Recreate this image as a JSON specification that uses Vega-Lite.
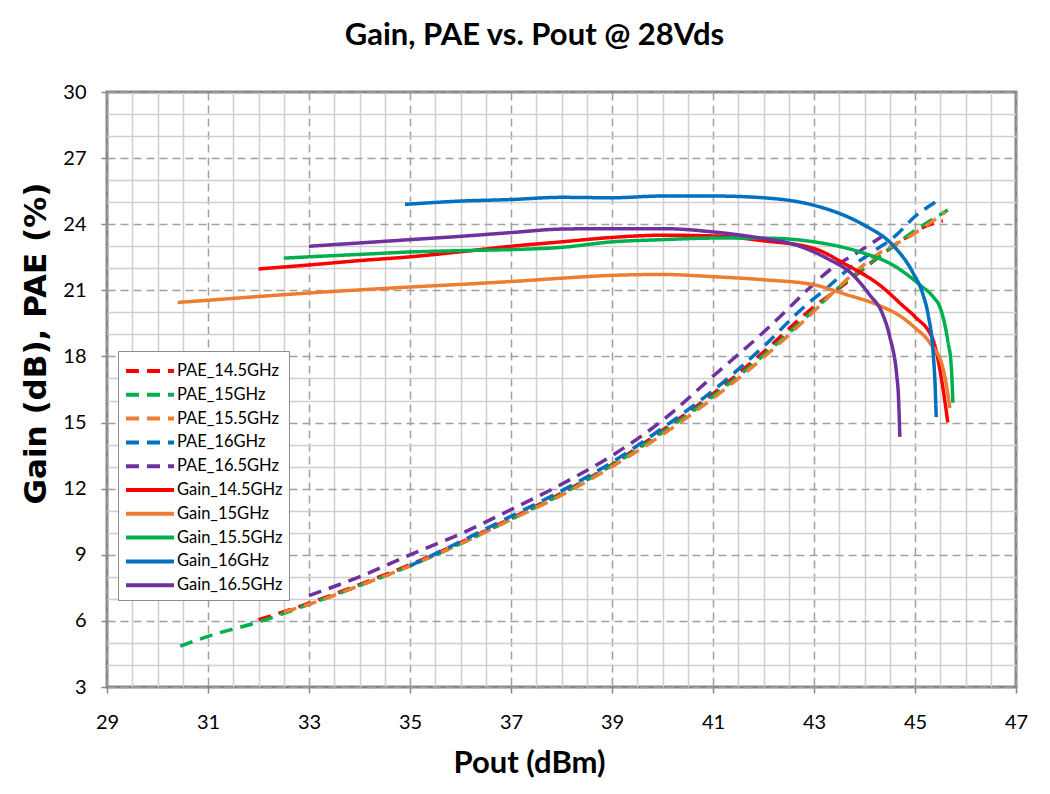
{
  "$schema": "https://vega.github.io/schema/vega-lite/v6.json",
  "autosize": {"type": "none"},
  "padding": {"left": 107, "top": 92, "right": 34, "bottom": 107},
  "width": 909,
  "height": 595,
  "background": "white",
  "title": {"text": "Gain, PAE vs. Pout @ 28Vds", "font": "Lato", "fontSize": 31, "fontWeight": "bold", "color": "#000000", "offset": 30, "dx": -27},
  "config": {
    "view": {"stroke": "#878787", "strokeWidth": 3},
    "axis": {"domain": false, "labelFont": "Lato", "labelFontSize": 20, "labelColor": "#000000", "titleFont": "Lato", "titleFontSize": 31, "titleFontWeight": "bold", "titleColor": "#000000", "tickSize": 6, "tickWidth": 1.5, "gridWidth": 1.5, "labelOverlap": false, "labelFlush": false, "labelBound": false, "format": "d"}
  },
  "data": {"values": [
    {"s":"PAE_14.5GHz","x":32,"y":6.05},{"s":"PAE_14.5GHz","x":33,"y":6.8},{"s":"PAE_14.5GHz","x":34,"y":7.65},{"s":"PAE_14.5GHz","x":35,"y":8.55},{"s":"PAE_14.5GHz","x":36,"y":9.55},{"s":"PAE_14.5GHz","x":37,"y":10.65},{"s":"PAE_14.5GHz","x":38,"y":11.8},{"s":"PAE_14.5GHz","x":39,"y":13.1},{"s":"PAE_14.5GHz","x":40,"y":14.65},{"s":"PAE_14.5GHz","x":41,"y":16.3},{"s":"PAE_14.5GHz","x":42,"y":18.2},{"s":"PAE_14.5GHz","x":43,"y":20.25},{"s":"PAE_14.5GHz","x":43.5,"y":21.1},{"s":"PAE_14.5GHz","x":44,"y":22.0},{"s":"PAE_14.5GHz","x":44.45,"y":22.8},{"s":"PAE_14.5GHz","x":44.9,"y":23.5},{"s":"PAE_14.5GHz","x":45.2,"y":23.9},{"s":"PAE_14.5GHz","x":45.55,"y":24.15},
    {"s":"PAE_15GHz","x":30.45,"y":4.85},{"s":"PAE_15GHz","x":31,"y":5.3},{"s":"PAE_15GHz","x":32,"y":5.95},{"s":"PAE_15GHz","x":33,"y":6.75},{"s":"PAE_15GHz","x":34,"y":7.6},{"s":"PAE_15GHz","x":35,"y":8.5},{"s":"PAE_15GHz","x":36,"y":9.5},{"s":"PAE_15GHz","x":37,"y":10.6},{"s":"PAE_15GHz","x":38,"y":11.75},{"s":"PAE_15GHz","x":39,"y":13.05},{"s":"PAE_15GHz","x":40,"y":14.55},{"s":"PAE_15GHz","x":41,"y":16.2},{"s":"PAE_15GHz","x":42,"y":18.05},{"s":"PAE_15GHz","x":43,"y":20.1},{"s":"PAE_15GHz","x":43.5,"y":21.15},{"s":"PAE_15GHz","x":44,"y":22.05},{"s":"PAE_15GHz","x":44.5,"y":22.9},{"s":"PAE_15GHz","x":45.1,"y":23.87},{"s":"PAE_15GHz","x":45.4,"y":24.3},{"s":"PAE_15GHz","x":45.65,"y":24.65},
    {"s":"PAE_15.5GHz","x":32.5,"y":6.4},{"s":"PAE_15.5GHz","x":33,"y":6.75},{"s":"PAE_15.5GHz","x":34,"y":7.6},{"s":"PAE_15.5GHz","x":35,"y":8.5},{"s":"PAE_15.5GHz","x":36,"y":9.5},{"s":"PAE_15.5GHz","x":37,"y":10.6},{"s":"PAE_15.5GHz","x":38,"y":11.7},{"s":"PAE_15.5GHz","x":39,"y":13.0},{"s":"PAE_15.5GHz","x":40,"y":14.45},{"s":"PAE_15.5GHz","x":41,"y":16.1},{"s":"PAE_15.5GHz","x":42,"y":17.95},{"s":"PAE_15.5GHz","x":43,"y":20.05},{"s":"PAE_15.5GHz","x":43.4,"y":20.95},{"s":"PAE_15.5GHz","x":43.8,"y":21.8},{"s":"PAE_15.5GHz","x":44.3,"y":22.7},{"s":"PAE_15.5GHz","x":44.9,"y":23.45},{"s":"PAE_15.5GHz","x":45.2,"y":23.9},{"s":"PAE_15.5GHz","x":45.6,"y":24.55},
    {"s":"PAE_16GHz","x":35,"y":8.5},{"s":"PAE_16GHz","x":36,"y":9.6},{"s":"PAE_16GHz","x":37,"y":10.75},{"s":"PAE_16GHz","x":38,"y":11.9},{"s":"PAE_16GHz","x":39,"y":13.2},{"s":"PAE_16GHz","x":40,"y":14.75},{"s":"PAE_16GHz","x":41,"y":16.45},{"s":"PAE_16GHz","x":42,"y":18.45},{"s":"PAE_16GHz","x":42.78,"y":20.2},{"s":"PAE_16GHz","x":43.25,"y":21.1},{"s":"PAE_16GHz","x":43.7,"y":22.0},{"s":"PAE_16GHz","x":44.2,"y":22.8},{"s":"PAE_16GHz","x":44.6,"y":23.45},{"s":"PAE_16GHz","x":45.0,"y":24.35},{"s":"PAE_16GHz","x":45.4,"y":25.0},
    {"s":"PAE_16.5GHz","x":33,"y":7.15},{"s":"PAE_16.5GHz","x":34,"y":8.0},{"s":"PAE_16.5GHz","x":35,"y":9.0},{"s":"PAE_16.5GHz","x":36,"y":9.95},{"s":"PAE_16.5GHz","x":37,"y":11.05},{"s":"PAE_16.5GHz","x":38,"y":12.2},{"s":"PAE_16.5GHz","x":39,"y":13.5},{"s":"PAE_16.5GHz","x":40,"y":15.1},{"s":"PAE_16.5GHz","x":41,"y":17.1},{"s":"PAE_16.5GHz","x":42,"y":19.1},{"s":"PAE_16.5GHz","x":42.46,"y":20.1},{"s":"PAE_16.5GHz","x":42.86,"y":21.0},{"s":"PAE_16.5GHz","x":43.3,"y":21.9},{"s":"PAE_16.5GHz","x":43.85,"y":22.7},{"s":"PAE_16.5GHz","x":44.45,"y":23.6},
    {"s":"Gain_14.5GHz","x":32,"y":21.97},{"s":"Gain_14.5GHz","x":33,"y":22.15},{"s":"Gain_14.5GHz","x":34,"y":22.35},{"s":"Gain_14.5GHz","x":35,"y":22.52},{"s":"Gain_14.5GHz","x":36,"y":22.75},{"s":"Gain_14.5GHz","x":37,"y":23.0},{"s":"Gain_14.5GHz","x":38,"y":23.2},{"s":"Gain_14.5GHz","x":39,"y":23.4},{"s":"Gain_14.5GHz","x":40,"y":23.5},{"s":"Gain_14.5GHz","x":41,"y":23.47},{"s":"Gain_14.5GHz","x":42,"y":23.25},{"s":"Gain_14.5GHz","x":43,"y":22.9},{"s":"Gain_14.5GHz","x":43.65,"y":22.15},{"s":"Gain_14.5GHz","x":44.3,"y":21.24},{"s":"Gain_14.5GHz","x":44.76,"y":20.3},{"s":"Gain_14.5GHz","x":45.0,"y":19.8},{"s":"Gain_14.5GHz","x":45.36,"y":18.74},{"s":"Gain_14.5GHz","x":45.53,"y":16.9},{"s":"Gain_14.5GHz","x":45.65,"y":15.0},
    {"s":"Gain_15GHz","x":30.4,"y":20.45},{"s":"Gain_15GHz","x":31,"y":20.55},{"s":"Gain_15GHz","x":32,"y":20.72},{"s":"Gain_15GHz","x":33,"y":20.88},{"s":"Gain_15GHz","x":34,"y":21.02},{"s":"Gain_15GHz","x":35,"y":21.15},{"s":"Gain_15GHz","x":36,"y":21.27},{"s":"Gain_15GHz","x":37,"y":21.4},{"s":"Gain_15GHz","x":38,"y":21.55},{"s":"Gain_15GHz","x":39,"y":21.68},{"s":"Gain_15GHz","x":40,"y":21.72},{"s":"Gain_15GHz","x":41,"y":21.62},{"s":"Gain_15GHz","x":42,"y":21.48},{"s":"Gain_15GHz","x":43,"y":21.25},{"s":"Gain_15GHz","x":43.65,"y":20.8},{"s":"Gain_15GHz","x":44.25,"y":20.35},{"s":"Gain_15GHz","x":44.76,"y":19.75},{"s":"Gain_15GHz","x":45.0,"y":19.3},{"s":"Gain_15GHz","x":45.3,"y":18.6},{"s":"Gain_15GHz","x":45.55,"y":17.5},{"s":"Gain_15GHz","x":45.65,"y":16.3},{"s":"Gain_15GHz","x":45.69,"y":15.66},
    {"s":"Gain_15.5GHz","x":32.5,"y":22.46},{"s":"Gain_15.5GHz","x":33,"y":22.52},{"s":"Gain_15.5GHz","x":34,"y":22.63},{"s":"Gain_15.5GHz","x":35,"y":22.74},{"s":"Gain_15.5GHz","x":36,"y":22.8},{"s":"Gain_15.5GHz","x":37,"y":22.85},{"s":"Gain_15.5GHz","x":38,"y":22.95},{"s":"Gain_15.5GHz","x":39,"y":23.2},{"s":"Gain_15.5GHz","x":40,"y":23.3},{"s":"Gain_15.5GHz","x":41,"y":23.37},{"s":"Gain_15.5GHz","x":42,"y":23.37},{"s":"Gain_15.5GHz","x":43,"y":23.2},{"s":"Gain_15.5GHz","x":43.91,"y":22.74},{"s":"Gain_15.5GHz","x":44.56,"y":22.15},{"s":"Gain_15.5GHz","x":45.1,"y":21.24},{"s":"Gain_15.5GHz","x":45.36,"y":20.7},{"s":"Gain_15.5GHz","x":45.5,"y":20.2},{"s":"Gain_15.5GHz","x":45.65,"y":18.7},{"s":"Gain_15.5GHz","x":45.72,"y":17.5},{"s":"Gain_15.5GHz","x":45.75,"y":15.9},
    {"s":"Gain_16GHz","x":34.9,"y":24.9},{"s":"Gain_16GHz","x":36,"y":25.05},{"s":"Gain_16GHz","x":37,"y":25.12},{"s":"Gain_16GHz","x":38,"y":25.22},{"s":"Gain_16GHz","x":39,"y":25.2},{"s":"Gain_16GHz","x":40,"y":25.28},{"s":"Gain_16GHz","x":41,"y":25.28},{"s":"Gain_16GHz","x":42,"y":25.2},{"s":"Gain_16GHz","x":42.98,"y":24.87},{"s":"Gain_16GHz","x":43.7,"y":24.3},{"s":"Gain_16GHz","x":44.0,"y":23.95},{"s":"Gain_16GHz","x":44.56,"y":23.05},{"s":"Gain_16GHz","x":44.96,"y":21.8},{"s":"Gain_16GHz","x":45.16,"y":20.8},{"s":"Gain_16GHz","x":45.26,"y":19.9},{"s":"Gain_16GHz","x":45.36,"y":18.15},{"s":"Gain_16GHz","x":45.4,"y":16.6},{"s":"Gain_16GHz","x":45.42,"y":15.25},
    {"s":"Gain_16.5GHz","x":33,"y":23.0},{"s":"Gain_16.5GHz","x":34,"y":23.15},{"s":"Gain_16.5GHz","x":35,"y":23.3},{"s":"Gain_16.5GHz","x":36,"y":23.45},{"s":"Gain_16.5GHz","x":37,"y":23.62},{"s":"Gain_16.5GHz","x":38,"y":23.78},{"s":"Gain_16.5GHz","x":39,"y":23.8},{"s":"Gain_16.5GHz","x":40,"y":23.8},{"s":"Gain_16.5GHz","x":41,"y":23.65},{"s":"Gain_16.5GHz","x":42,"y":23.35},{"s":"Gain_16.5GHz","x":42.58,"y":23.1},{"s":"Gain_16.5GHz","x":43.25,"y":22.46},{"s":"Gain_16.5GHz","x":43.77,"y":21.7},{"s":"Gain_16.5GHz","x":44.1,"y":20.8},{"s":"Gain_16.5GHz","x":44.35,"y":19.97},{"s":"Gain_16.5GHz","x":44.5,"y":18.9},{"s":"Gain_16.5GHz","x":44.64,"y":17.1},{"s":"Gain_16.5GHz","x":44.67,"y":16.3},{"s":"Gain_16.5GHz","x":44.7,"y":14.35}
  ]},
  "mark": {"type": "line", "strokeWidth": 3.5, "interpolate": "monotone", "strokeCap": "butt"},
  "encoding": {
    "x": {"field": "x", "type": "quantitative",
      "scale": {"domain": [29, 47], "nice": false, "zero": false},
      "axis": {
        "title": "Pout (dBm)",
        "values": [29,29.5,30,30.5,31,31.5,32,32.5,33,33.5,34,34.5,35,35.5,36,36.5,37,37.5,38,38.5,39,39.5,40,40.5,41,41.5,42,42.5,43,43.5,44,44.5,45,45.5,46,46.5,47],
        "labelExpr": "datum.value % 2 === 1 ? datum.label : ''",
        "labelPadding": 19,
        "gridColor": {"condition": {"test": "datum.value % 2 === 1", "value": "#a0a0a0"}, "value": "#cfcfcf"},
        "gridDash": {"condition": {"test": "datum.value % 2 === 1", "value": [8, 5]}, "value": []},
        "tickColor": {"condition": {"test": "datum.value % 2 === 1", "value": "#888888"}, "value": "transparent"},
        "titleX": 422, "titleY": 76, "titleBaseline": "middle"
      }},
    "y": {"field": "y", "type": "quantitative",
      "scale": {"domain": [3, 30], "nice": false, "zero": false},
      "axis": {
        "title": "Gain (dB),  PAE (%)",
        "values": [3,4,5,6,7,8,9,10,11,12,13,14,15,16,17,18,19,20,21,22,23,24,25,26,27,28,29,30],
        "labelExpr": "datum.value % 3 === 0 ? datum.label : ''",
        "labelPadding": 15,
        "gridColor": {"condition": {"test": "datum.value % 3 === 0", "value": "#a0a0a0"}, "value": "#cfcfcf"},
        "gridDash": {"condition": {"test": "datum.value % 3 === 0", "value": [8, 5]}, "value": []},
        "tickColor": {"condition": {"test": "datum.value % 3 === 0", "value": "#888888"}, "value": "transparent"},
        "titleFont": "DejaVu Sans", "titleFontSize": 31,
        "titleX": -71, "titleY": 251, "titleBaseline": "middle", "titleAngle": -90, "titleAlign": "center"
      }},
    "color": {"field": "s", "type": "nominal",
      "scale": {"domain": ["PAE_14.5GHz","PAE_15GHz","PAE_15.5GHz","PAE_16GHz","PAE_16.5GHz","Gain_14.5GHz","Gain_15GHz","Gain_15.5GHz","Gain_16GHz","Gain_16.5GHz"],
                "range": ["#FF0000","#00B050","#ED7D31","#0070C0","#7030A0","#FF0000","#ED7D31","#00B050","#0070C0","#7030A0"]},
      "legend": {"title": null, "orient": "none", "legendX": 11, "legendY": 259, "fillColor": "white", "strokeColor": "#8c8c8c", "padding": 6,
        "symbolType": "M-1,0H3", "symbolSize": 576, "symbolStrokeWidth": 4, "symbolFillColor": "transparent",
        "labelFont": "Lato", "labelFontSize": 16.5, "labelColor": "#000000", "labelOffset": 25, "rowPadding": 0.8}},
    "strokeDash": {"field": "s", "type": "nominal",
      "scale": {"domain": ["PAE_14.5GHz","PAE_15GHz","PAE_15.5GHz","PAE_16GHz","PAE_16.5GHz","Gain_14.5GHz","Gain_15GHz","Gain_15.5GHz","Gain_16GHz","Gain_16.5GHz"],
                "range": [[13,8],[13,8],[13,8],[13,8],[13,8],[1,0],[1,0],[1,0],[1,0],[1,0]]},
      "legend": {"title": null, "orient": "none", "legendX": 11, "legendY": 259, "fillColor": "white", "strokeColor": "#8c8c8c", "padding": 6,
        "symbolType": "M-1,0H3", "symbolSize": 576, "symbolStrokeWidth": 4, "symbolFillColor": "transparent",
        "labelFont": "Lato", "labelFontSize": 16.5, "labelColor": "#000000", "labelOffset": 25, "rowPadding": 0.8}}
  }
}
